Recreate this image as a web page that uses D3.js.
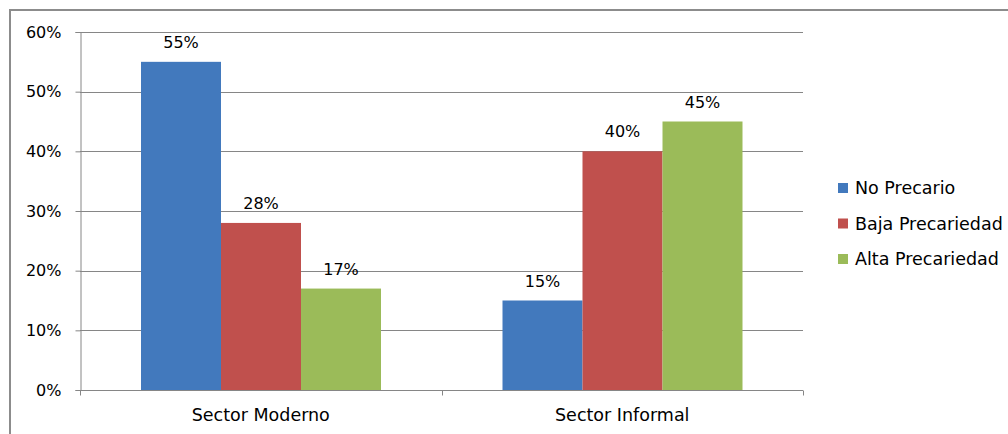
<!DOCTYPE html>
<html><head><meta charset="utf-8">
<script src="https://cdn.jsdelivr.net/npm/d3@7"></script>
<style>body{margin:0;background:#fff}svg{display:block}text{font-family:"DejaVu Sans",sans-serif;fill:#000}</style>
</head><body>
<svg id="c" width="1008" height="434"></svg>
<script>
const categories = ["Sector Moderno", "Sector Informal"];
const seriesNames = ["No Precario", "Baja Precariedad", "Alta Precariedad"];
const noPrecario = [0.55, 0.15];
const bajaPrecariedad = [0.28, 0.40];
const altaPrecariedad = [0.17, 0.45];
const yTicks = [0, 0.1, 0.2, 0.3, 0.4, 0.5, 0.6];
const colors = ["#4279bd", "#c0504d", "#9bbb59"];

(function(){
const seriesValues = [noPrecario, bajaPrecariedad, altaPrecariedad];
const svg = d3.select("#c");
svg.append("rect").attr("x",10).attr("y",10).attr("width",1100).attr("height",500)
  .attr("fill","none").attr("stroke","#8c8c8c").attr("stroke-width",2);

const pL=80, pR=803, pT=32, pB=390;
const x0 = d3.scaleBand().domain(categories).range([pL,pR]).padding(0);
const x1 = d3.scaleBand().domain(seriesNames).range([61,61+240]).padding(0);
const y = d3.scaleLinear().domain([0,0.6]).range([pB,pT]);

svg.append("g").selectAll("line").data(yTicks.filter(d=>d>0)).join("line")
  .attr("x1",pL).attr("x2",pR).attr("y1",d=>Math.round(y(d))+0.5).attr("y2",d=>Math.round(y(d))+0.5)
  .attr("stroke","#868686").attr("stroke-width",1);

const yAxis = svg.append("g").attr("transform",`translate(${pL+0.5},0)`)
  .call(d3.axisLeft(y).tickValues(yTicks).tickFormat(d3.format(".0%")).tickSize(5).tickPadding(14));
yAxis.select(".domain").attr("stroke","#868686");
yAxis.selectAll(".tick line").attr("stroke","#868686");
yAxis.selectAll(".tick text").attr("font-size","16px").attr("font-family","DejaVu Sans").attr("fill","#000");

const g = svg.append("g");
categories.forEach((c,ci)=>{
  seriesValues.forEach((vals,si)=>{
    const bx = x0(c)+x1(seriesNames[si]);
    g.append("rect").attr("x",bx).attr("y",y(vals[ci])).attr("width",x1.bandwidth())
      .attr("height",y(0)-y(vals[ci])).attr("fill",colors[si]);
    g.append("text").attr("x",bx+x1.bandwidth()/2).attr("y",y(vals[ci])-14)
      .attr("text-anchor","middle").attr("font-size","16px").text(d3.format(".0%")(vals[ci]));
  });
});

const xAxis = svg.append("g").attr("transform",`translate(0,${pB+0.5})`);
xAxis.append("line").attr("x1",pL).attr("x2",pR).attr("stroke","#868686");
[pL, pL+x0.bandwidth(), pR].forEach(px=>{
  xAxis.append("line").attr("x1",Math.round(px)+0.5).attr("x2",Math.round(px)+0.5).attr("y1",0).attr("y2",5).attr("stroke","#868686");
});
categories.forEach(c=>{
  xAxis.append("text").attr("x",x0(c)+x0.bandwidth()/2).attr("y",30).attr("text-anchor","middle")
    .attr("font-size","17.5px").text(c);
});

const lg = svg.append("g").attr("transform","translate(838,188)");
seriesNames.forEach((s,i)=>{
  const row = lg.append("g").attr("transform",`translate(0,${i*35.5})`);
  row.append("rect").attr("x",0).attr("y",-5).attr("width",10).attr("height",10).attr("fill",colors[i]);
  row.append("text").attr("x",17).attr("y",0).attr("dy","0.35em").attr("font-size","17.5px").text(s);
});
})();
</script>
</body></html>
